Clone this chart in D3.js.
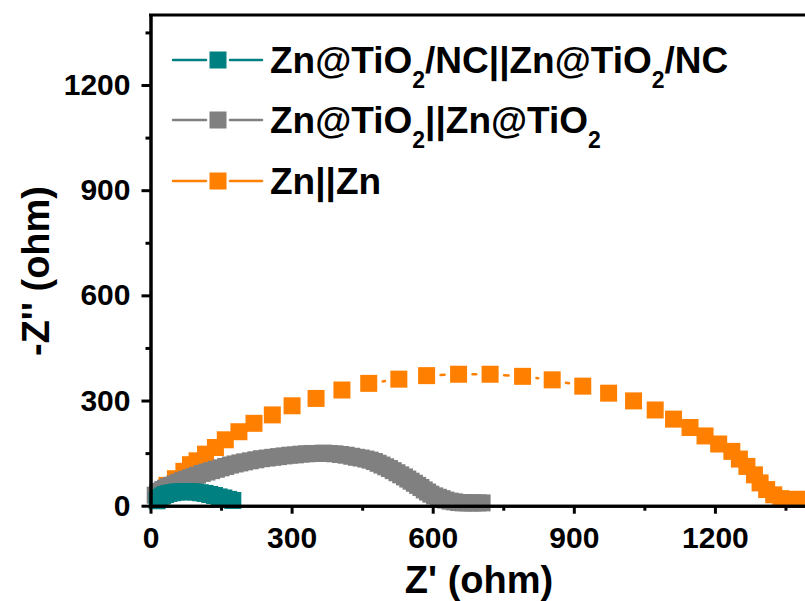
<!DOCTYPE html>
<html><head><meta charset="utf-8">
<script src="https://cdn.jsdelivr.net/npm/d3@7"></script>
<style>body{margin:0;background:#fff}</style>
</head><body>
<svg id="chart" width="805" height="601"></svg>
<script>
// ---- data ----
const xTicks = [0, 300, 600, 900, 1200];
const yTicks = [0, 300, 600, 900, 1200];
const xMinor = [150, 450, 750, 1050, 1350];
const yMinor = [150, 450, 750, 1050, 1350];
const seriesNames = ["Zn@TiO2/NC||Zn@TiO2/NC", "Zn@TiO2||Zn@TiO2", "Zn||Zn"];
const seriesColors = ["#008080", "#808080", "#FF8000"];

// Zn@TiO2/NC||Zn@TiO2/NC
const tealX = [14,17,21,26,32,39,47,56,66,76,86,96,106,116,126,136,146,156,166,175];
const tealY = [14,18,23,28,32,35,37,39,40,40,40,39,37,35,32,29,25,22,18,15];

// Zn@TiO2||Zn@TiO2
const grayX = [10,15,20,26,32,38,45,52,60,68,76,84,92,100,110,120,130,140,150,160,170,180,190,200,212,224,236,248,260,272,284,296,308,320,332,344,356,368,380,392,404,416,428,438,448,458,467,476,484,492,500,508,516,524,532,540,547,554,561,568,575,582,589,596,604,612,620,628,637,646,655,665,675,685,695,705];
const grayY = [30,36,41,46,50,54,58,62,67,71,75,79,83,87,92,96,100,104,108,112,116,119,122,125,128,131,134,136,138,140,142,144,145,147,148,149,149,150,149,148,146,144,141,138,136,133,130,126,121,116,111,106,100,94,88,82,76,70,64,58,52,45,39,33,28,24,20,16,13,11,9,8,8,8,8,8];

// Zn||Zn
const orangeX = [18,35,53,71,85,99,117,138,159,188,220,259,301,352,407,464,528,587,655,722,791,854,919,974,1027,1073,1112,1147,1179,1208,1236,1252,1268,1284,1296,1310,1325,1340,1355,1370,1385,1400];
const orangeY = [39,58,77,98,117,128,147,166,188,211,235,259,285,306,330,349,361,371,375,375,369,359,341,321,299,273,247,223,199,176,155,133,112,88,65,46,31,20,18,18,18,18];

// ---- chart ----
const FONT = "'Liberation Sans', Arial, Helvetica, sans-serif";
const svg = d3.select('#chart');
const x = d3.scaleLinear().domain([0, 1400]).range([150.5, 809]);
const y = d3.scaleLinear().domain([0, 1400]).range([505.7, 14.9]);

const series = [
  {xs: orangeX, ys: orangeY, color: seriesColors[2]},
  {xs: grayX, ys: grayY, color: seriesColors[1]},
  {xs: tealX, ys: tealY, color: seriesColors[0]}
];
const M = 17;
const GAP = 14; // line stops short of each symbol (gap to symbol)
series.forEach(s => {
  const pts = s.xs.map((v, i) => [v, s.ys[i]]);
  const g = svg.append('g');
  const segs = [];
  for (let i = 1; i < pts.length; i++) {
    const x1 = x(pts[i - 1][0]), y1 = y(pts[i - 1][1]);
    const x2 = x(pts[i][0]), y2 = y(pts[i][1]);
    const d = Math.hypot(x2 - x1, y2 - y1);
    if (d > 2 * GAP) {
      const ux = (x2 - x1) / d, uy = (y2 - y1) / d;
      segs.push([x1 + ux * GAP, y1 + uy * GAP, x2 - ux * GAP, y2 - uy * GAP]);
    }
  }
  g.selectAll('line').data(segs).join('line')
    .attr('x1', d => d[0]).attr('y1', d => d[1]).attr('x2', d => d[2]).attr('y2', d => d[3])
    .attr('stroke', s.color).attr('stroke-width', 2.5).attr('stroke-linecap', 'round');
  g.selectAll('rect').data(pts).join('rect')
    .attr('x', d => x(d[0]) - M / 2).attr('y', d => y(d[1]) - M / 2)
    .attr('width', M).attr('height', M).attr('fill', s.color);
});

// axes
const fmt = d3.format('d');
const xAxis = svg.append('g').attr('transform', `translate(0,${y(0)})`)
  .call(d3.axisBottom(x).tickValues(xTicks).tickFormat(fmt).tickSize(8).tickSizeOuter(0).tickPadding(13));
const xAxisMinor = svg.append('g').attr('transform', `translate(0,${y(0)})`)
  .call(d3.axisBottom(x).tickValues(xMinor).tickSize(5).tickSizeOuter(0).tickFormat(''));
const yAxis = svg.append('g').attr('transform', `translate(${x(0)},0)`)
  .call(d3.axisLeft(y).tickValues(yTicks).tickFormat(fmt).tickSize(9).tickSizeOuter(0).tickPadding(11));
const yAxisMinor = svg.append('g').attr('transform', `translate(${x(0)},0)`)
  .call(d3.axisLeft(y).tickValues(yMinor).tickSize(5).tickSizeOuter(0).tickFormat(''));
[xAxis, xAxisMinor, yAxis, yAxisMinor].forEach(a => {
  a.selectAll('path.domain').attr('stroke', '#000').attr('stroke-width', 3);
  a.selectAll('.tick line').attr('stroke', '#000').attr('stroke-width', 3);
  a.selectAll('.tick text').attr('fill', '#000').style('font-family', FONT)
    .style('font-size', '30px').style('font-weight', 'bold');
});
// top & right frame
svg.append('line').attr('x1', x(0) - 1.5).attr('x2', x(1400)).attr('y1', y(1400)).attr('y2', y(1400))
  .attr('stroke', '#000').attr('stroke-width', 3);
svg.append('line').attr('x1', x(1400)).attr('x2', x(1400)).attr('y1', y(1400)).attr('y2', y(0))
  .attr('stroke', '#000').attr('stroke-width', 3);

// axis titles
svg.append('text').attr('x', 479).attr('y', 593).attr('text-anchor', 'middle')
  .style('font-family', FONT).style('font-size', '38px').style('font-weight', 'bold')
  .text("Z' (ohm)");
svg.append('text').attr('transform', 'translate(49,271) rotate(-90)').attr('text-anchor', 'middle')
  .style('font-family', FONT).style('font-size', '38px').style('font-weight', 'bold')
  .text("-Z'' (ohm)");

// legend
const legendY = [60, 120, 181];
const legendParts = [
  [["Zn@TiO", 0], ["2", 1], ["/NC||Zn@TiO", 0], ["2", 1], ["/NC", 0]],
  [["Zn@TiO", 0], ["2", 1], ["||Zn@TiO", 0], ["2", 1]],
  [["Zn||Zn", 0]]
];
seriesNames.forEach((name, i) => {
  const g = svg.append('g');
  const c = seriesColors[i];
  [[173, 206], [230, 262]].forEach(([a, b]) => {
    g.append('line').attr('x1', a).attr('x2', b).attr('y1', legendY[i]).attr('y2', legendY[i])
      .attr('stroke', c).attr('stroke-width', 2.5).attr('stroke-linecap', 'round');
  });
  g.append('rect').attr('x', 218 - 8.5).attr('y', legendY[i] - 8.5).attr('width', 17).attr('height', 17)
    .attr('fill', c);
  const t = g.append('text').attr('x', 270).attr('y', legendY[i] + 13)
    .style('font-family', FONT).style('font-size', '37px').style('font-weight', 'bold')
    .attr('aria-label', name);
  let sub = false;
  legendParts[i].forEach(([txt, isSub]) => {
    const ts = t.append('tspan').text(txt);
    if (isSub && !sub) { ts.attr('dy', 15).style('font-size', '23px'); sub = true; }
    else if (!isSub && sub) { ts.attr('dy', -15); sub = false; }
    else if (isSub) { ts.style('font-size', '23px'); }
  });
});
</script>
</body></html>
